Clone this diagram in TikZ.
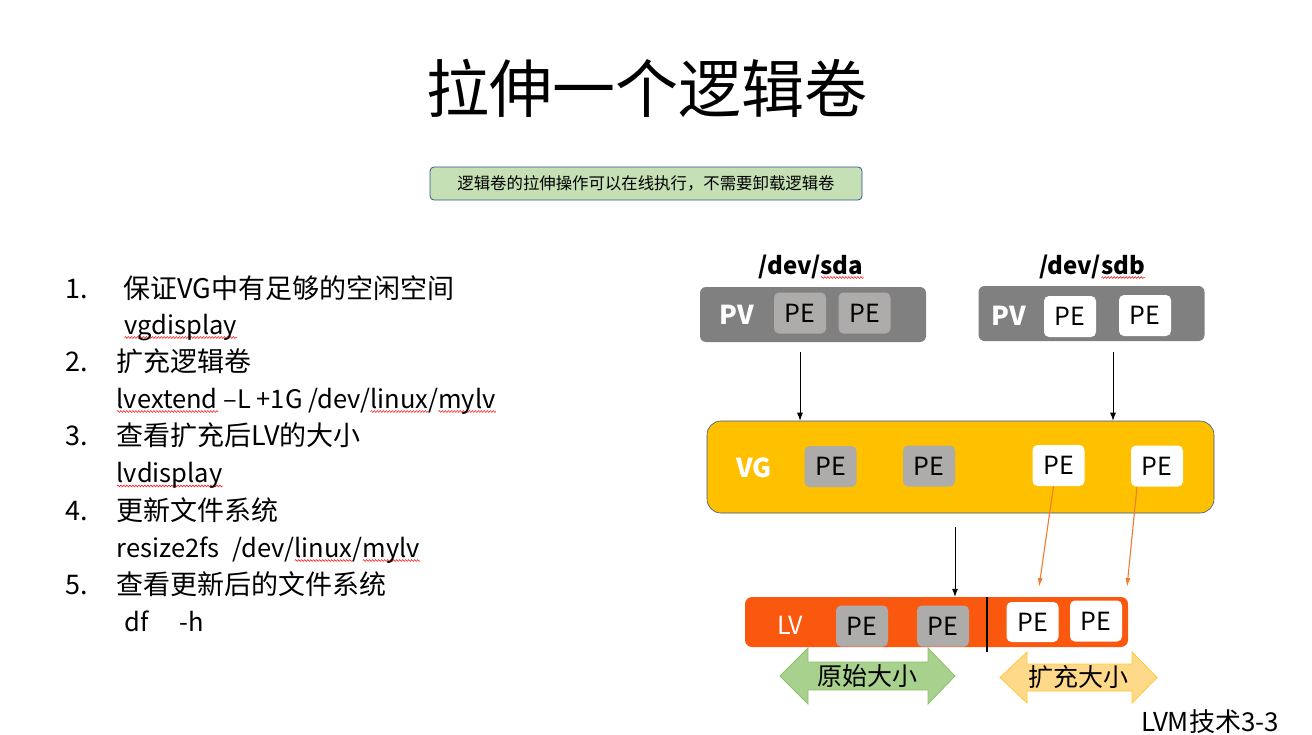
\documentclass[tikz,border=0pt]{standalone}
\usepackage{fontspec}
\setmainfont{Noto Sans CJK SC}
\usetikzlibrary{arrows.meta,decorations.pathmorphing}
\definecolor{notefill}{HTML}{C5E0B4}
\definecolor{noteline}{HTML}{2F528F}
\definecolor{pvgray}{HTML}{808080}
\definecolor{pegray}{HTML}{AEABAB}
\definecolor{vgyellow}{HTML}{FFC000}
\definecolor{lvorange}{HTML}{FA580F}
\definecolor{growline}{HTML}{ED7D31}
\definecolor{oldfill}{HTML}{A9D18E}
\definecolor{oldline}{HTML}{8CC26C}
\definecolor{newfill}{HTML}{FFD98A}
\definecolor{newline}{HTML}{FFC833}
\newcommand\spellwave[1]{\setbox0=\hbox{#1}\rlap{\tikz[baseline=0pt,x=1pt,y=1pt]\draw[red,line width=0.5pt,decorate,decoration={snake,amplitude=0.9pt,segment length=3pt}] (0,-3.5) -- (\the\wd0,-3.5);}\box0\relax}
\begin{document}
\begin{tikzpicture}[x=1pt, y=-1pt, every node/.style={inner sep=0pt},
	headline/.style={font=\fontsize{63}{70}\selectfont},
	notebox/.style={draw=noteline, fill=notefill, rounded corners=4pt, line width=0.8pt, minimum width=432pt, minimum height=33pt, font=\fontsize{16.4}{18}\selectfont},
	stepnum/.style={anchor=base west, font=\fontsize{27}{30}\selectfont},
	steptext/.style={anchor=base west, font=\fontsize{27}{30}\selectfont},
	cmdtext/.style={anchor=base west, font=\fontsize{25.5}{30}\selectfont},
	devname/.style={anchor=base, font=\fontsize{24}{26}\selectfont\bfseries},
	pvbox/.style={fill=pvgray, rounded corners=6pt, minimum width=226pt, minimum height=55pt},
	volname/.style={text=white, font=\fontsize{26}{28}\selectfont\bfseries},
	pebox/.style={rounded corners=5pt, minimum width=52pt, minimum height=41pt, font=\fontsize{25}{27}\selectfont},
	oldpe/.style={pebox, fill=pegray},
	newpe/.style={pebox, fill=white},
	vgbox/.style={draw=noteline, fill=vgyellow, rounded corners=14pt, line width=0.6pt, minimum width=507pt, minimum height=92pt},
	lvbox/.style={fill=lvorange, rounded corners=7pt, minimum width=383pt, minimum height=50pt},
	flow/.style={-{Latex[length=8pt,width=6pt]}, line width=0.9pt},
	extendline/.style={-{Latex[length=9pt,width=5pt]}, draw=growline, line width=1.1pt},
	sizetext/.style={font=\fontsize{25}{27}\selectfont}]
	\useasboundingbox (0,0) rectangle (1312,734);
	\node[headline] (title) at (647,88) {拉伸一个逻辑卷};
	\node[notebox] (note) at (646,183.5) {逻辑卷的拉伸操作可以在线执行，不需要卸载逻辑卷};

	\node[stepnum] (num1) at (65,298) {1.};
	\node[steptext] (task1) at (123,298) {保证VG中有足够的空闲空间};
	\node[cmdtext] (cmd1) at (124,334) {\spellwave{vgdisplay}};
	\node[stepnum] (num2) at (65,371) {2.};
	\node[steptext] (task2) at (116.5,371) {扩充逻辑卷};
	\node[cmdtext] (cmd2) at (116.5,408) {\spellwave{lvextend} –L +1G /dev/\spellwave{linux}/\spellwave{mylv}};
	\node[stepnum] (num3) at (65,445.5) {3.};
	\node[steptext] (task3) at (116.5,445.5) {查看扩充后LV的大小};
	\node[cmdtext] (cmd3) at (116.5,482.5) {\spellwave{lvdisplay}};
	\node[stepnum] (num4) at (65,520) {4.};
	\node[steptext] (task4) at (116.5,520) {更新文件系统};
	\node[cmdtext] (cmd4) at (116.5,557) {resize2fs\hspace{13pt}/dev/\spellwave{linux}/\spellwave{mylv}};
	\node[stepnum] (num5) at (65,594) {5.};
	\node[steptext] (task5) at (116.5,594) {查看更新后的文件系统};
	\node[cmdtext] (cmd5) at (124,631) {df\hspace{31pt}-h};

	\node[devname] (sda) at (811,274) {/dev/\spellwave{sda}};
	\node[devname] (sdb) at (1092,274) {/dev/\spellwave{sdb}};
	\node[pvbox] (pva) at (813,314.5) {};
	\node[pvbox] (pvb) at (1091.5,313.5) {};
	\node[volname] (pvaname) at (737,315) {PV};
	\node[volname] (pvbname) at (1009,316) {PV};
	\node[oldpe] (pvape1) at (800,313) {PE};
	\node[oldpe] (pvape2) at (864.5,313) {PE};
	\node[newpe] (pvbpe1) at (1070,316.5) {PE};
	\node[newpe] (pvbpe2) at (1145,315.5) {PE};

	\node[vgbox] (vg) at (960.5,467) {};
	\node[volname] (vgname) at (754,468) {VG};
	\node[oldpe] (vgpe1) at (830.5,466.5) {PE};
	\node[oldpe] (vgpe2) at (929,466) {PE};
	\node[newpe] (vgpe3) at (1058.5,465.5) {PE};
	\node[newpe] (vgpe4) at (1157,466) {PE};
	\coordinate (sdbdrop) at (1113,342);
	\draw[flow, shorten <=10pt] (pva.south -| pvape1) -- (vg.north -| pvape1);
	\draw[flow, shorten <=10pt] (sdbdrop) -- (sdbdrop |- vg.north);

	\draw[draw=oldline, fill=oldfill, line width=0.8pt] (780,676) -- (808,648) -- (808,662) -- (928,662) -- (928,648) -- (955,676) -- (928,704) -- (928,690) -- (808,690) -- (808,704) -- cycle;
	\draw[draw=newline, fill=newfill, line width=0.8pt] (1000,677.5) -- (1027,652) -- (1027,664) -- (1132,664) -- (1132,652) -- (1157,677.5) -- (1132,703) -- (1132,691) -- (1027,691) -- (1027,703) -- cycle;
	\node[sizetext] (oldsize) at (867,676) {原始大小};
	\node[sizetext] (newsize) at (1078,677.5) {扩充大小};

	\node[lvbox] (lv) at (936.5,622) {};
	\node[text=white, font=\fontsize{25}{27}\selectfont] (lvname) at (790,625) {LV};
	\node[oldpe] (lvpe1) at (862,626) {PE};
	\node[oldpe] (lvpe2) at (943,626) {PE};
	\node[newpe, minimum height=40pt] (lvpe3) at (1032.5,622) {PE};
	\node[newpe, minimum height=41pt] (lvpe4) at (1096,621) {PE};
	\coordinate (lvcut) at (987,597);
	\draw[line width=1.6pt] (lvcut) -- ++(0,55);
	\coordinate (vgdrop) at (955,513);
	\coordinate (lvin1) at (1039,587);
	\coordinate (lvin2) at (1127,587);
	\draw[flow, shorten <=14pt] (vgdrop) -- (vgdrop |- lv.north);
	\draw[extendline] ([xshift=-5pt]vgpe3.south) -- (lvin1);
	\draw[extendline] ([xshift=-20pt]vgpe4.south) -- (lvin2);

	\node[anchor=base, font=\fontsize{26}{28}\selectfont] (footer) at (1210,731) {LVM技术3-3};
\end{tikzpicture}
\end{document}
